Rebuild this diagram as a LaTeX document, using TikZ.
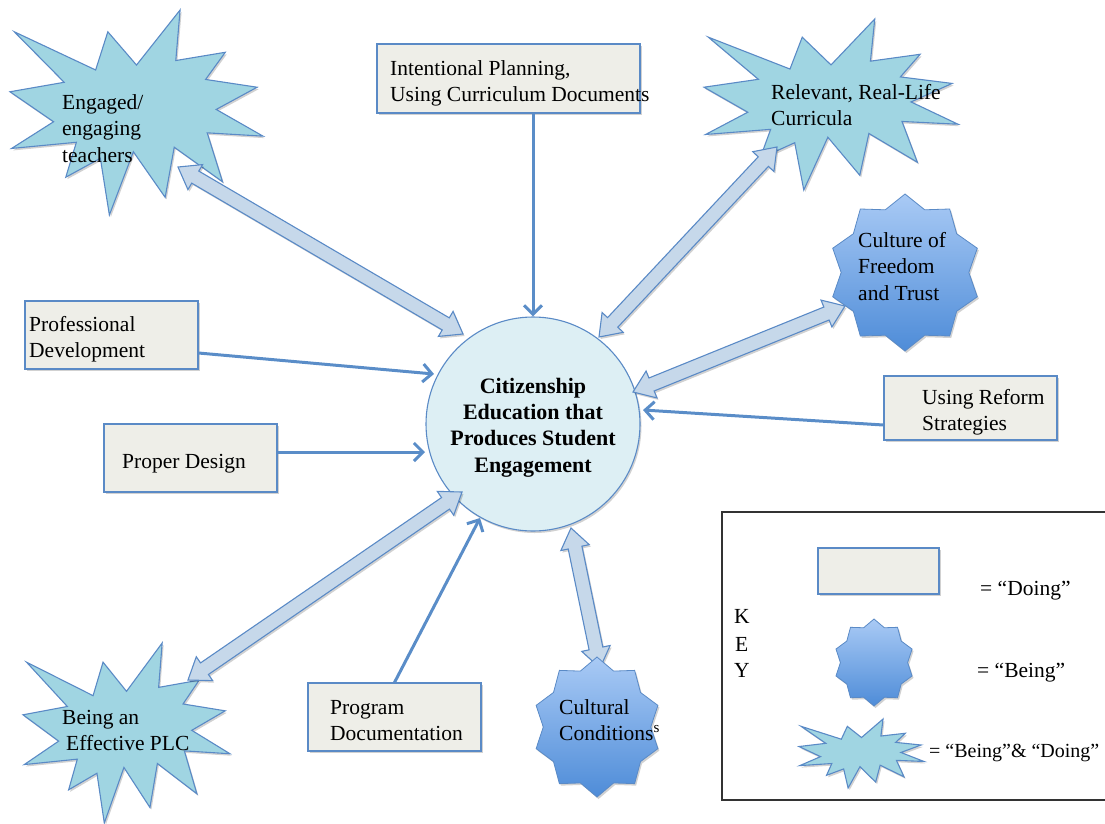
\documentclass[tikz,border=0pt]{standalone}
\usepackage{fontspec}
\setmainfont{Liberation Serif}
\usetikzlibrary{calc,arrows.meta,shadows}

\definecolor{edge}{HTML}{5A8AC6}
\definecolor{boxfill}{HTML}{EEEEE8}
\definecolor{burstfill}{HTML}{A0D5E2}
\definecolor{shaftfill}{HTML}{C6D8EA}
\definecolor{hubfill}{HTML}{DDEFF4}
\definecolor{sealtop}{HTML}{A9CAF5}
\definecolor{sealbot}{HTML}{4E8CD8}
\definecolor{linkblue}{HTML}{5A8DC8}

\tikzset{
  softshadow/.style={drop shadow={shadow xshift=1.5pt,shadow yshift=-2pt,opacity=0.18,fill=black}},
  doing/.style={draw=edge, line width=1.1pt, fill=boxfill, softshadow, inner sep=0pt},
  burstline/.style={draw=edge, line width=1.1pt, fill=burstfill, softshadow},
  sealline/.style={draw=edge, line width=0.8pt, top color=sealtop, bottom color=sealbot, softshadow},
  shaft/.style={draw=edge, line width=1.1pt, fill=shaftfill, softshadow},
  link/.style={draw=linkblue, line width=3pt, -{Straight Barb[length=9pt,width=18pt]}},
  % multi-line texts are anchored at the baseline of their last line
  txt/.style={inner sep=0pt, font=\fontsize{21.5}{26.5}\selectfont, align=left, anchor=base west},
}

% "Explosion" outline fitted into the box (x0,y0) with width w and height h
\newcommand\explosion[5]{%
  \begin{scope}[shift={(#2,#3)}, xscale=#4, yscale=#5]
    \draw[burstline] (0.5000,0.2685) -- (0.6723,0) -- (0.6553,0.2465) -- (0.8509,0.2063)
      -- (0.7732,0.3387) -- (0.9767,0.3767) -- (0.8151,0.4850) -- (1,0.6153)
      -- (0.7795,0.5992) -- (0.8400,0.8377) -- (0.6491,0.6693) -- (0.6133,0.9138)
      -- (0.4876,0.6914) -- (0.3928,1) -- (0.3572,0.7235) -- (0.2205,0.8156)
      -- (0.2624,0.6452) -- (0.00625,0.6753) -- (0.1723,0.5451) -- (0,0.3988)
      -- (0.2142,0.3526) -- (0.0171,0.1063) -- (0.3385,0.2926) -- (0.3867,0.1063) -- cycle;
    \coordinate (#1) at (0.5,0.5);
  \end{scope}}

% ten-pointed seal centred at (cx,cy) with radii rx, ry
\newcommand\sealstar[5]{%
  \begin{scope}[shift={(#2,#3)}, xscale=#4, yscale=#5]
    \draw[sealline] (90:1) \foreach \i [evaluate=\i as \r using {mod(\i,2)==0 ? 1 : 0.84}] in {1,...,19} { -- ({90+18*\i}:\r) } -- cycle;
    \coordinate (#1) at (0,0);
  \end{scope}}

% double-headed block arrow between two points
\newcommand\twinarrow[2]{%
  \draw[shaft] (#1)
    -- ($(#1)!20pt!(#2)!14.5pt!90:(#2)$)
    -- ($(#1)!20pt!(#2)!7pt!90:(#2)$)
    -- ($(#2)!20pt!(#1)!7pt!-90:(#1)$)
    -- ($(#2)!20pt!(#1)!14.5pt!-90:(#1)$)
    -- (#2)
    -- ($(#2)!20pt!(#1)!14.5pt!90:(#1)$)
    -- ($(#2)!20pt!(#1)!7pt!90:(#1)$)
    -- ($(#1)!20pt!(#2)!7pt!-90:(#2)$)
    -- ($(#1)!20pt!(#2)!14.5pt!-90:(#2)$)
    -- cycle;}

\begin{document}
\begin{tikzpicture}[x=1pt,y=-1pt]
\useasboundingbox (0,0) rectangle (1105,823);

% key frame
\node[draw=black!80, line width=1.3pt, minimum width=385pt, minimum height=288pt, inner sep=0pt] (keyframe) at (914.5,656) {};

% "doing" boxes
\node[doing, minimum width=263pt, minimum height=69pt] (plan) at (508.5,78.5) {};
\node[doing, minimum width=173pt, minimum height=68pt] (prof) at (111.5,335) {};
\node[doing, minimum width=173pt, minimum height=68pt] (design) at (190.5,458) {};
\node[doing, minimum width=173pt, minimum height=64pt] (reform) at (970.5,408) {};
\node[doing, minimum width=173pt, minimum height=68pt] (progdoc) at (394.5,717) {};
\node[doing, minimum width=121pt, minimum height=46pt] (keydoing) at (878.5,571) {};

% central circle
\node[circle, draw=edge, line width=1.1pt, fill=hubfill, minimum size=214pt, inner sep=0pt, softshadow] (hub) at (533,424) {};

% being & doing shapes
\explosion{eng}{10}{10}{253}{205}
\explosion{rel}{704}{19}{254}{171}
\explosion{plc}{23}{643}{207}{180}
\explosion{keyburst}{799}{719}{125}{69}

% being shapes
\sealstar{culture}{905}{272.5}{76}{78.5}
\sealstar{keyseal}{874}{662.5}{40}{43.5}

% block arrow ends
\coordinate (eng-in) at (178,167);
\coordinate (hub-eng) at (463,334);
\coordinate (rel-in) at (777,147);
\coordinate (hub-rel) at (599,337);
\coordinate (culture-in) at (845,306);
\coordinate (hub-culture) at (633,392);
\coordinate (plc-in) at (188,680);
\coordinate (hub-plc) at (462,492);
\coordinate (cond-in) at (600,668);
\coordinate (hub-cond) at (571,528);

\twinarrow{eng-in}{hub-eng}
\twinarrow{rel-in}{hub-rel}
\twinarrow{culture-in}{hub-culture}
\twinarrow{plc-in}{hub-plc}
\twinarrow{cond-in}{hub-cond}

\sealstar{cond}{597}{727}{64}{70}

% thin arrows
\coordinate (hub-prof) at (434,374);
\coordinate (hub-design) at (425,452);
\coordinate (hub-reform) at (643,410);
\coordinate (hub-progdoc) at (480,518);
\draw[link] (hub.north |- plan.south) -- (hub.north);
\draw[link] ([yshift=-18pt]prof.east) -- (hub-prof);
\draw[link] ([yshift=6pt]design.east) -- (hub-design);
\draw[link] ([yshift=-17pt]reform.west) -- (hub-reform);
\draw[link] (progdoc.north) -- (hub-progdoc);

% texts
\node[txt] (plan-t) at (390,101.5) {Intentional Planning,\\Using Curriculum Documents};
\node[txt] (prof-t) at (29,357.5) {Professional\\Development};
\node[txt] (design-t) at (122,468) {Proper Design};
\node[txt] (reform-t) at (922,430.5) {Using Reform\\Strategies};
\node[txt] (progdoc-t) at (330,740.5) {Program\\Documentation};
\node[txt] (eng-t) at (62,162) {Engaged/\\engaging\\teachers};
\node[txt] (rel-t) at (771,125.5) {Relevant, Real-Life\\Curricula};
\node[txt] (culture-t) at (858,300) {Culture of\\Freedom\\and Trust};
\node[txt] (cond-t) at (559,740.5) {Cultural\\Conditions\textsuperscript{s}};
\node[txt] (plc-t) at (62,750.5) {Being an\\\hspace*{4pt}Effective PLC};
\node[inner sep=0pt, align=center, anchor=base, font=\fontsize{22}{26.3}\selectfont\bfseries] (hub-t) at (533,472)
  {Citizenship\\Education that\\Produces Student\\Engagement};

% key texts
\node[txt] (key-k) at (734,623) {K};
\node[txt] (key-e) at (735,651) {E};
\node[txt] (key-y) at (734,677) {Y};
\node[txt] (key-doing) at (980,595) {= “Doing”};
\node[txt] (key-being) at (977,677) {= “Being”};
\node[txt, font=\fontsize{20}{24}\selectfont] (key-both) at (929,757) {= “Being”\& “Doing”};
\end{tikzpicture}
\end{document}
